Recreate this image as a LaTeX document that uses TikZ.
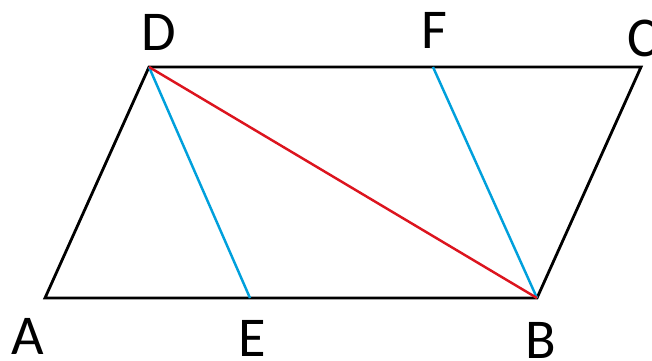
\documentclass[tikz,border=0pt]{standalone}
\usepackage{fontspec}
\setmainfont{Carlito}
\usepackage{tikz}

\begin{document}
\begin{tikzpicture}[x=0.02cm,y=-0.02cm]
\tikzset{
  side/.style={line width=1.6pt,black},
  blueline/.style={line width=1.4pt,color={rgb,255:red,0;green,160;blue,220}},
  redline/.style={line width=1.4pt,color={rgb,255:red,220;green,20;blue,30}},
  lbl/.style={font=\fontsize{32}{32}\selectfont,inner sep=0pt}
}
\useasboundingbox (0,0) rectangle (652,360);

% Vertices
\coordinate (A) at (45,298);
\coordinate (B) at (537,298);
\coordinate (C) at (641,67);
\coordinate (D) at (149,67);
\coordinate (E) at (250,298);
\coordinate (F) at (433,67);

% Parallelogram
\draw[side] (A) -- (B) -- (C) -- (D) -- cycle;

% Inner lines
\draw[blueline] (D) -- (E);
\draw[blueline] (F) -- (B);
\draw[redline] (D) -- (B);

% Labels
\node[lbl] (labD) at (159,32) {D};
\node[lbl] (labF) at (434,30) {F};
\node[lbl] (labC) at (642,38) {C};
\node[lbl] (labA) at (28,336) {A};
\node[lbl] (labE) at (252,338) {E};
\node[lbl] (labB) at (541,340) {B};

\end{tikzpicture}
\end{document}
